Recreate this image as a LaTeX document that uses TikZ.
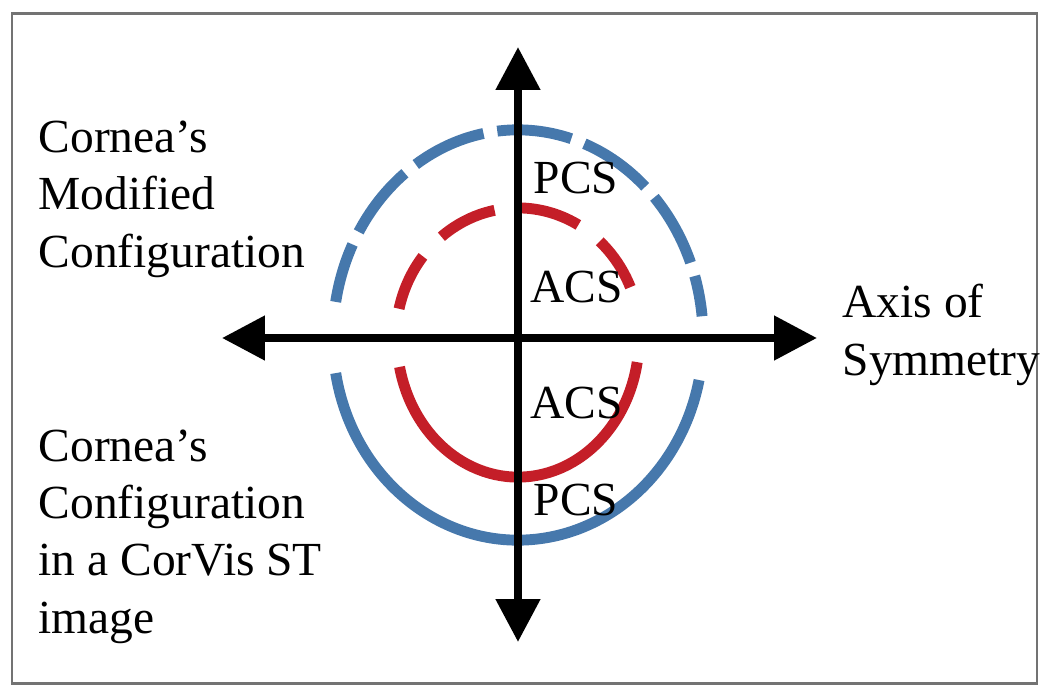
\documentclass[tikz,border=0pt]{standalone}
\usepackage{fontspec}
\setmainfont{Liberation Serif}
\usetikzlibrary{arrows.meta}
\definecolor{cornblue}{RGB}{70,120,172}
\definecolor{cornred}{RGB}{196,30,40}
\begin{document}
\begin{tikzpicture}[x=0.01cm, y=-0.01cm,
    every node/.style={inner sep=0pt, font=\fontsize{13.5}{16.3}\selectfont},
    note/.style={anchor=base west, align=left},
    axisline/.style={line width=2.3pt, {Triangle[length=12.2pt,width=12.2pt]}-{Triangle[length=12.2pt,width=12.2pt]}},
    bluearc/.style={cornblue, line width=3.1pt},
    redarc/.style={cornred, line width=3.1pt}]
    \useasboundingbox (0,0) rectangle (1050,693);
    % Frame
    \draw[black!55, line width=0.85pt] (12,13) rectangle (1037,683);

    % Centre and axis ends
    \coordinate (O) at (518,338);
    \coordinate (top) at (518,47);
    \coordinate (bot) at (518,642);
    \coordinate (lft) at (222,338);
    \coordinate (rgt) at (817,338);

    % Modified configuration (dashed, above the axis)
    \draw[bluearc, dash pattern=on 21.34pt off 3.98pt, dash phase=4.27pt]
        (O) ++(170:1.85cm and 2.08cm) arc[start angle=170, end angle=6, x radius=1.85cm, y radius=2.08cm];
    \draw[redarc, dash pattern=on 17.07pt off 7.68pt, dash phase=0.57pt]
        (O) ++(167:1.22cm and 1.30cm) arc[start angle=167, end angle=23, x radius=1.22cm, y radius=1.30cm];

    % CorVis ST configuration (solid, below the axis)
    \draw[bluearc] (O) ++(190:1.85cm and 2.02cm) arc[start angle=190, end angle=348, x radius=1.85cm, y radius=2.02cm];
    \draw[redarc] (O) ++(192:1.21cm and 1.39cm) arc[start angle=192, end angle=350, x radius=1.21cm, y radius=1.39cm];

    % Axes
    \draw[axisline] (lft) -- (rgt);
    \draw[axisline] (bot) -- (top);

    % Surface labels
    \node[anchor=base west] (pcs1) at (533,193) {PCS};
    \node[anchor=base west] (acs1) at (530,302) {ACS};
    \node[anchor=base west] (acs2) at (530,418) {ACS};
    \node[anchor=base west] (pcs2) at (533,515) {PCS};

    % Side texts (base = last line)
    \node[note] (modcfg) at (38,267) {Cornea’s\\Modified\\Configuration};
    \node[note] (orgcfg) at (38,633) {Cornea’s\\Configuration\\in a CorVis ST\\image};
    \node[note] (sym) at (842,375) {Axis of\\Symmetry};
\end{tikzpicture}
\end{document}
